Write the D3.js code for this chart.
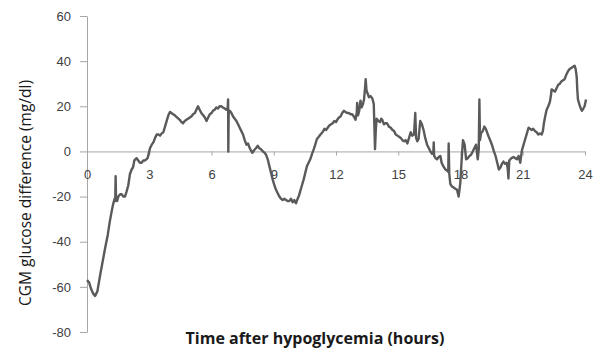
<!DOCTYPE html>
<html>
<head>
<meta charset="utf-8">
<script src="https://cdn.jsdelivr.net/npm/d3@7"></script>
<style>
  body { margin: 0; background: #fff; }
  svg { display: block; font-family: "Open Sans", sans-serif; }
</style>
</head>
<body>
<svg id="chart" width="605" height="350"></svg>
<script>
// data (hours after hypoglycemia, CGM difference mg/dl)
const hours = [
  0.00, 0.10, 0.20, 0.30, 0.39, 0.50, 0.63, 0.75, 0.87, 1.00, 1.10, 1.20, 1.27, 1.33, 1.36, 1.38, 1.40, 1.45,
  1.51, 1.60, 1.67, 1.75, 1.83, 1.90, 1.99, 2.07, 2.15, 2.22, 2.28, 2.39, 2.47, 2.55, 2.63, 2.71, 2.80, 2.92,
  3.04, 3.12, 3.20, 3.28, 3.36, 3.44, 3.52, 3.60, 3.68, 3.76, 3.84, 3.92, 4.00, 4.07, 4.15, 4.23, 4.35, 4.47,
  4.55, 4.63, 4.71, 4.79, 4.87, 4.95, 5.03, 5.11, 5.20, 5.27, 5.35, 5.43, 5.51, 5.60, 5.68, 5.76, 5.84, 5.92,
  6.00, 6.07, 6.15, 6.23, 6.31, 6.39, 6.47, 6.55, 6.64, 6.72, 6.78, 6.80, 6.81, 6.83, 6.88, 6.96, 7.04, 7.12,
  7.20, 7.28, 7.36, 7.44, 7.52, 7.60, 7.68, 7.76, 7.84, 7.90, 7.97, 8.05, 8.15, 8.23, 8.30, 8.38, 8.47, 8.55,
  8.63, 8.71, 8.79, 8.87, 8.95, 9.03, 9.11, 9.19, 9.27, 9.35, 9.43, 9.51, 9.59, 9.67, 9.75, 9.83, 9.91, 9.99,
  10.07, 10.15, 10.22, 10.28, 10.36, 10.44, 10.52, 10.60, 10.68, 10.76, 10.85, 10.93, 11.00, 11.08, 11.17, 11.25,
  11.35, 11.44, 11.52, 11.60, 11.68, 11.76, 11.84, 11.92, 12.00, 12.06, 12.14, 12.22, 12.30, 12.38, 12.46, 12.54,
  12.62, 12.70, 12.78, 12.86, 12.94, 13.00, 13.02, 13.06, 13.12, 13.18, 13.23, 13.30, 13.35, 13.40, 13.43, 13.47,
  13.51, 13.59, 13.67, 13.75, 13.82, 13.86, 13.88, 13.92, 13.96, 14.04, 14.12, 14.18, 14.23, 14.31, 14.38, 14.46,
  14.55, 14.64, 14.72, 14.80, 14.88, 14.96, 15.04, 15.12, 15.20, 15.28, 15.36, 15.44, 15.52, 15.60, 15.68, 15.76,
  15.82, 15.86, 15.92, 15.98, 16.06, 16.14, 16.22, 16.30, 16.39, 16.47, 16.55, 16.63, 16.69, 16.71, 16.73, 16.80,
  16.87, 16.95, 17.03, 17.09, 17.17, 17.27, 17.35, 17.41, 17.43, 17.46, 17.51, 17.59, 17.67, 17.75, 17.83, 17.91,
  17.99, 18.06, 18.12, 18.20, 18.27, 18.35, 18.43, 18.51, 18.59, 18.67, 18.75, 18.83, 18.88, 18.91, 18.94, 18.99,
  19.07, 19.15, 19.22, 19.30, 19.36, 19.45, 19.53, 19.61, 19.69, 19.77, 19.85, 19.93, 20.00, 20.07, 20.15, 20.23,
  20.28, 20.31, 20.35, 20.45, 20.56, 20.64, 20.72, 20.80, 20.88, 20.96, 21.04, 21.12, 21.20, 21.28, 21.35, 21.43,
  21.51, 21.59, 21.67, 21.75, 21.83, 21.91, 21.97, 22.02, 22.08, 22.15, 22.23, 22.31, 22.36, 22.39, 22.47, 22.55,
  22.63, 22.71, 22.79, 22.86, 22.94, 23.02, 23.10, 23.18, 23.26, 23.34, 23.42, 23.50, 23.55, 23.60, 23.63, 23.66,
  23.74, 23.80, 23.85, 23.92, 23.98, 24.05
];
const glucoseDiff = [
  -57, -58, -61, -63, -64, -62, -55, -49, -43, -37, -31, -26, -23, -21, -22, -11, -21, -22,
  -20, -19, -19, -20, -20, -18, -15, -10, -8, -7, -4, -3, -4, -5, -5, -4, -4, -3,
  1.5, 3, 4, 6, 7.5, 7.5, 7, 8, 8.5, 11, 13.5, 16, 17.5, 17, 16.5, 16, 15, 14,
  13, 12.5, 13.5, 14, 14.5, 15, 15.5, 16.5, 17, 18.5, 20, 18.5, 17, 16, 15, 13.5, 15, 16.5,
  17, 18, 18.5, 19.5, 19, 20, 20, 19.5, 19, 18.5, 19, 23, 0, 18, 18, 17, 15.5, 14.5,
  13.5, 12, 10.5, 9, 7.5, 5, 3, 3.5, 1.5, 0.5, -0.6, 0.5, 1.5, 2.5, 1.5, 1, 0.1, -0.5,
  -1.5, -3.5, -6.5, -9.5, -12.5, -15, -17, -18.5, -20, -21, -21.5, -21, -21.5, -22, -22, -21, -22.5, -21.5,
  -23, -21, -19.5, -17.5, -15, -12.5, -9.5, -6.5, -5, -3.5, -1, 1, 3, 5.5, 6.5, 7.5,
  8.5, 10, 9.5, 10.5, 11.5, 12, 12.5, 13.5, 13, 14, 15, 15.5, 17, 18, 17.5, 17,
  17, 16.5, 16.5, 15.5, 14, 17, 21.5, 16, 18, 22.5, 19.5, 21, 23, 28, 32, 27,
  26, 24, 24.5, 23.5, 21, 8, 1, 10, 14.5, 13.5, 13, 14.5, 14, 12, 12.5, 12.5,
  11, 10.5, 9.5, 9, 7.5, 7, 6.5, 6, 5, 4.5, 5, 3.5, 6, 8.5, 7, 7.5,
  17, 6, 4.5, 5.5, 13.5, 12, 9.5, 6, 3, 1.5, 0, -1, -0.5, 4, -2, -3,
  -3.5, -2.5, -2, -5, -6.5, -8, -8.5, -9, 3.5, -10, -14.5, -15.5, -16, -16.5, -17, -20,
  -14, -3, 5, 3, -3.5, -3, -2, -1.5, 0, 1.5, 3, -3.5, 1, 23, 5, 8,
  9, 11, 10, 8, 6.5, 4.5, 2.5, 0, -2, -5, -8, -7, -5.5, -4.5, -5.5, -5,
  -8, -12, -4, -3, -2.5, -3, -3.5, -2, -5, 0.5, 3, 5.5, 8, 10.5, 10, 9.5,
  10, 9, 8.5, 7.5, 8, 7.5, 9, 12.5, 15.5, 18.5, 20, 22, 25, 27.5, 27, 26.5,
  28, 29.5, 30, 31, 31.5, 32, 34, 35.5, 36.5, 37, 37.5, 38, 36.5, 33, 27, 23,
  20.5, 19, 18, 19, 20, 23
];
const xTicks = [0, 3, 6, 9, 12, 15, 18, 21, 24];
const yTicks = [-80, -60, -40, -20, 0, 20, 40, 60];

const svg = d3.select("#chart");

const x = d3.scaleLinear().domain([0, 24]).range([87, 585]);
const y = d3.scaleLinear().domain([-80, 60]).range([332, 16]);

const axisColor = "#a6a6a6";
const labelColor = "#404040";

// y axis (plain hyphen for negatives, like the original)
const yAxis = svg.append("g")
  .attr("transform", `translate(${x(0)},0)`)
  .call(d3.axisLeft(y).tickValues(yTicks).tickFormat(d => String(d))
    .tickSize(7).tickPadding(9).tickSizeOuter(0));
yAxis.select(".domain").attr("stroke", axisColor);
yAxis.selectAll(".tick line").attr("stroke", axisColor);
yAxis.selectAll(".tick text")
  .attr("fill", labelColor)
  .style("font-size", "13px");

// x axis along zero
const xAxis = svg.append("g")
  .attr("transform", `translate(0,${y(0)})`)
  .call(d3.axisBottom(x).tickValues(xTicks).tickFormat(d => String(d))
    .tickSize(4).tickPadding(14).tickSizeOuter(0));
xAxis.select(".domain").attr("stroke", axisColor);
xAxis.selectAll(".tick line").attr("stroke", axisColor);
xAxis.selectAll(".tick text")
  .attr("fill", labelColor)
  .style("font-size", "13px");

// series
const pts = hours.map((h, i) => [h, glucoseDiff[i]]);
svg.append("path")
  .datum(pts)
  .attr("fill", "none")
  .attr("stroke", "#5a5a5a")
  .attr("stroke-width", 2.4)
  .attr("stroke-linejoin", "round")
  .attr("d", d3.line().x(d => x(d[0])).y(d => y(d[1])));

// axis titles
svg.append("text")
  .attr("x", 315)
  .attr("y", 344)
  .attr("text-anchor", "middle")
  .attr("fill", "#1a1a1a")
  .style("font-size", "16px")
  .style("font-weight", "bold")
  .text("Time after hypoglycemia (hours)");

svg.append("text")
  .attr("transform", "translate(31,193) rotate(-90)")
  .attr("text-anchor", "middle")
  .attr("fill", "#1a1a1a")
  .style("font-size", "15.5px")
  .text("CGM glucose difference (mg/dl)");
</script>
</body>
</html>
